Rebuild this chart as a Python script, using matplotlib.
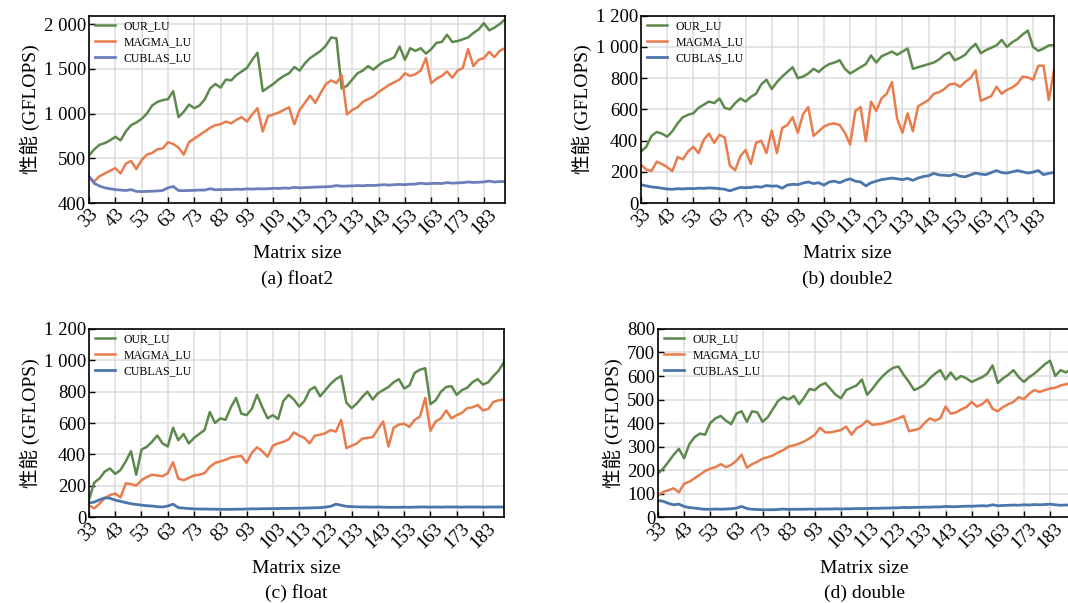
import matplotlib
matplotlib.use('agg')
import matplotlib.pyplot as plt
from matplotlib.ticker import FuncFormatter

plt.rcParams['font.family'] = ['Liberation Serif', 'Noto Sans CJK SC']

# matrix sizes (read every second size off the picture)
SIZES = list(range(33, 192, 2))

# (a) float2
our_float2 = [530, 600, 650, 670, 700, 740, 700, 800, 870, 900,
              940, 1000, 1090, 1130, 1150, 1160, 1250, 960, 1020, 1100,
              1060, 1090, 1160, 1280, 1330, 1290, 1380, 1370, 1430, 1470,
              1510, 1600, 1680, 1250, 1290, 1330, 1380, 1420, 1450, 1520,
              1480, 1560, 1620, 1660, 1700, 1760, 1850, 1840, 1280, 1310,
              1380, 1450, 1480, 1530, 1490, 1540, 1580, 1600, 1630, 1750,
              1600, 1730, 1700, 1730, 1670, 1720, 1790, 1800, 1880, 1800,
              1810, 1830, 1850, 1900, 1940, 2010, 1930, 1960, 2000, 2050]
magma_float2 = [290, 240, 300, 330, 360, 390, 330, 440, 470, 380,
                480, 540, 560, 600, 610, 680, 660, 620, 540, 680,
                720, 760, 800, 840, 870, 880, 910, 890, 930, 960,
                910, 990, 1060, 800, 970, 990, 1010, 1040, 1070, 880,
                1040, 1120, 1200, 1120, 1230, 1330, 1370, 1340, 1430, 990,
                1040, 1070, 1130, 1160, 1190, 1240, 1280, 1320, 1350, 1380,
                1450, 1420, 1440, 1480, 1620, 1340, 1390, 1420, 1470, 1400,
                1480, 1510, 1720, 1530, 1600, 1620, 1690, 1630, 1700, 1730]
cublas_float2 = [300, 220, 190, 170, 160, 150, 145, 140, 150, 130,
                 128, 130, 132, 135, 140, 170, 185, 140, 138, 140,
                 142, 145, 145, 160, 148, 150, 152, 150, 155, 152,
                 158, 155, 160, 158, 160, 165, 162, 168, 165, 175,
                 170, 172, 175, 178, 180, 182, 185, 195, 188, 190,
                 192, 195, 193, 198, 196, 200, 205, 200, 205, 208,
                 205, 210, 212, 222, 215, 218, 220, 218, 228, 222,
                 225, 228, 235, 230, 232, 236, 245, 235, 240, 240]

# (b) double2
our_double2 = [330, 360, 430, 455, 445, 425, 460, 510, 550, 565,
               575, 610, 630, 650, 640, 670, 610, 600, 640, 670,
               650, 680, 700, 760, 790, 730, 775, 810, 840, 870,
               800, 810, 830, 860, 840, 870, 890, 900, 915, 860,
               830, 850, 870, 890, 945, 900, 940, 955, 970, 950,
               970, 990, 860, 870, 880, 890, 900, 920, 950, 965,
               915, 930, 950, 990, 1020, 960, 980, 995, 1010, 1045,
               1000, 1030, 1050, 1080, 1105, 1000, 975, 990, 1010, 1012]
magma_double2 = [245, 215, 205, 265, 250, 230, 205, 295, 280, 330,
                 360, 320, 405, 445, 385, 437, 420, 240, 210, 300,
                 340, 250, 385, 400, 320, 465, 320, 480, 500, 550,
                 450, 570, 615, 430, 460, 490, 505, 510, 500, 450,
                 375, 590, 615, 395, 650, 590, 670, 700, 775, 540,
                 450, 575, 460, 620, 640, 660, 700, 710, 730, 760,
                 765, 745, 775, 800, 850, 655, 670, 685, 745, 700,
                 725, 740, 765, 810, 805, 790, 880, 880, 660, 850]
cublas_double2 = [117, 110, 103, 100, 95, 90, 88, 92, 90, 93,
                  92, 95, 94, 97, 95, 92, 88, 78, 90, 100,
                  98, 100, 105, 102, 112, 108, 110, 95, 115, 120,
                  118, 128, 135, 125, 130, 115, 135, 140, 130, 145,
                  155, 140, 135, 110, 130, 140, 150, 155, 160, 155,
                  150, 158, 145, 160, 170, 175, 190, 180, 178, 175,
                  185, 172, 168, 180, 192, 185, 182, 195, 208, 195,
                  192, 200, 208, 200, 192, 198, 208, 182, 190, 196]

# (c) float
our_float = [110, 220, 245, 290, 310, 275, 300, 355, 420, 270,
             430, 448, 480, 520, 470, 450, 570, 490, 530, 470,
             505, 530, 555, 670, 600, 630, 620, 700, 760, 660,
             650, 690, 780, 700, 630, 650, 625, 740, 780, 750,
             705, 740, 810, 830, 770, 810, 850, 880, 900, 730,
             695, 725, 765, 800, 750, 790, 810, 830, 860, 880,
             820, 840, 920, 940, 950, 720, 745, 800, 830, 835,
             780, 810, 825, 860, 880, 845, 860, 900, 935, 990]
magma_float = [75, 55, 85, 120, 140, 150, 125, 215, 210, 200,
               235, 255, 270, 265, 260, 280, 350, 245, 235, 250,
               265, 270, 280, 320, 345, 355, 365, 380, 385, 390,
               345, 410, 445, 420, 385, 455, 470, 480, 495, 540,
               520, 505, 470, 520, 525, 535, 555, 545, 620, 440,
               455, 470, 500, 505, 510, 560, 610, 450, 570, 590,
               595, 575, 620, 640, 760, 550, 610, 630, 680, 630,
               650, 665, 695, 700, 715, 680, 690, 735, 745, 750]
cublas_float = [90, 95, 110, 122, 120, 108, 100, 92, 85, 80,
                76, 72, 70, 66, 64, 70, 82, 60, 57, 54,
                52, 51, 51, 50, 50, 49, 49, 49, 50, 50,
                51, 52, 52, 53, 53, 54, 54, 55, 55, 56,
                56, 57, 58, 59, 60, 63, 68, 82, 75, 68,
                66, 65, 64, 64, 63, 64, 63, 62, 62, 62,
                63, 62, 63, 64, 64, 63, 64, 63, 64, 64,
                64, 63, 64, 64, 64, 63, 64, 64, 64, 64]

# (d) double
our_double = [185, 206, 235, 265, 290, 250, 310, 340, 355, 350,
              400, 420, 430, 410, 395, 440, 450, 405, 450, 445,
              405, 425, 460, 495, 510, 500, 515, 480, 510, 545,
              540, 560, 570, 545, 520, 505, 540, 550, 560, 585,
              520, 545, 575, 600, 620, 635, 640, 605, 575, 540,
              550, 565, 590, 610, 625, 585, 615, 585, 600, 590,
              575, 585, 595, 610, 645, 570, 590, 605, 625, 595,
              575, 595, 610, 630, 650, 665, 600, 625, 615, 630]
magma_double = [92, 107, 114, 122, 105, 142, 150, 165, 180, 195,
                206, 212, 225, 212, 222, 240, 265, 210, 225, 235,
                248, 255, 262, 275, 285, 300, 305, 312, 322, 335,
                350, 380, 360, 360, 365, 370, 385, 350, 378, 390,
                410, 392, 395, 398, 405, 412, 420, 430, 365, 370,
                376, 400, 420, 410, 420, 470, 440, 445, 458, 468,
                490, 470, 480, 500, 460, 450, 468, 480, 490, 510,
                502, 525, 540, 532, 540, 547, 550, 560, 565, 570]
cublas_double = [70, 67, 58, 52, 55, 45, 40, 38, 35, 33,
                 33, 34, 33, 34, 35, 38, 45, 36, 33, 32,
                 31, 31, 31, 32, 34, 32, 33, 33, 33, 34,
                 33, 34, 34, 34, 35, 34, 35, 35, 36, 36,
                 36, 37, 37, 38, 38, 39, 39, 41, 40, 41,
                 41, 42, 42, 43, 43, 45, 44, 44, 45, 46,
                 46, 47, 48, 47, 52, 48, 49, 50, 51, 50,
                 52, 51, 53, 52, 53, 55, 52, 50, 51, 51]

XTICKS = list(range(33, 184, 10))
GREEN = '#5d8a4c'
ORANGE = '#e97c4c'
BLUE = '#4a76ab'
BLUE_A = '#6d7dbb'


def thousands(v, pos):
    return f"{v:,.0f}".replace(",", " ")


def panel(fig, rect, our, magma, cublas, ylim, yticks, caption,
          blue=BLUE, ylabels=None):
    ax = fig.add_axes(rect)
    ax.plot(SIZES, our, color=GREEN, lw=1.8, label='OUR_LU')
    ax.plot(SIZES, magma, color=ORANGE, lw=1.8, label='MAGMA_LU')
    ax.plot(SIZES, cublas, color=blue, lw=2.0, label='CUBLAS_LU')
    ax.set_xlim(33, 191)
    ax.set_ylim(*ylim)
    ax.set_xticks(XTICKS)
    ax.set_xticklabels([str(t) for t in XTICKS], rotation=45)
    ax.set_yticks(yticks)
    if ylabels is not None:
        ax.set_yticklabels(ylabels)
    else:
        ax.yaxis.set_major_formatter(FuncFormatter(thousands))
    ax.tick_params(direction='in', length=4, width=1, labelsize=13.5, pad=2)
    ax.grid(True, color='#dcdcdc', lw=1.1)
    ax.set_axisbelow(True)
    for s in ax.spines.values():
        s.set_linewidth(1.2)
    ax.set_ylabel('性能 (GFLOPS)', fontsize=14, labelpad=3)
    ax.text(0.5, -0.272, 'Matrix size', transform=ax.transAxes,
            ha='center', va='center', fontsize=14)
    ax.text(0.5, -0.405, caption, transform=ax.transAxes,
            ha='center', va='center', fontsize=14)
    ax.legend(loc='upper left', frameon=False, fontsize=8.5,
              handlelength=1.7, handletextpad=0.7, labelspacing=0.35,
              borderaxespad=0.1, bbox_to_anchor=(0.0, 1.01))
    return ax


fig = plt.figure(figsize=(10.68, 6.03), dpi=100)

panel(fig, [0.0833, 0.6633, 0.3895, 0.3106], our_float2, magma_float2,
      cublas_float2, (0, 2093), [0, 500, 1000, 1500, 2000], '(a) float2',
      blue=BLUE_A, ylabels=['400', '500', '1 000', '1 500', '2 000'])
panel(fig, [0.6002, 0.6633, 0.3867, 0.3106], our_double2, magma_double2,
      cublas_double2, (0, 1200), list(range(0, 1201, 200)), '(b) double2')
panel(fig, [0.0833, 0.1426, 0.3886, 0.3118], our_float, magma_float,
      cublas_float, (0, 1200), list(range(0, 1201, 200)), '(c) float')
panel(fig, [0.6161, 0.1426, 0.3867, 0.3118], our_double, magma_double,
      cublas_double, (0, 800), list(range(0, 801, 100)), '(d) double')

fig.savefig('out.png', dpi=100)
